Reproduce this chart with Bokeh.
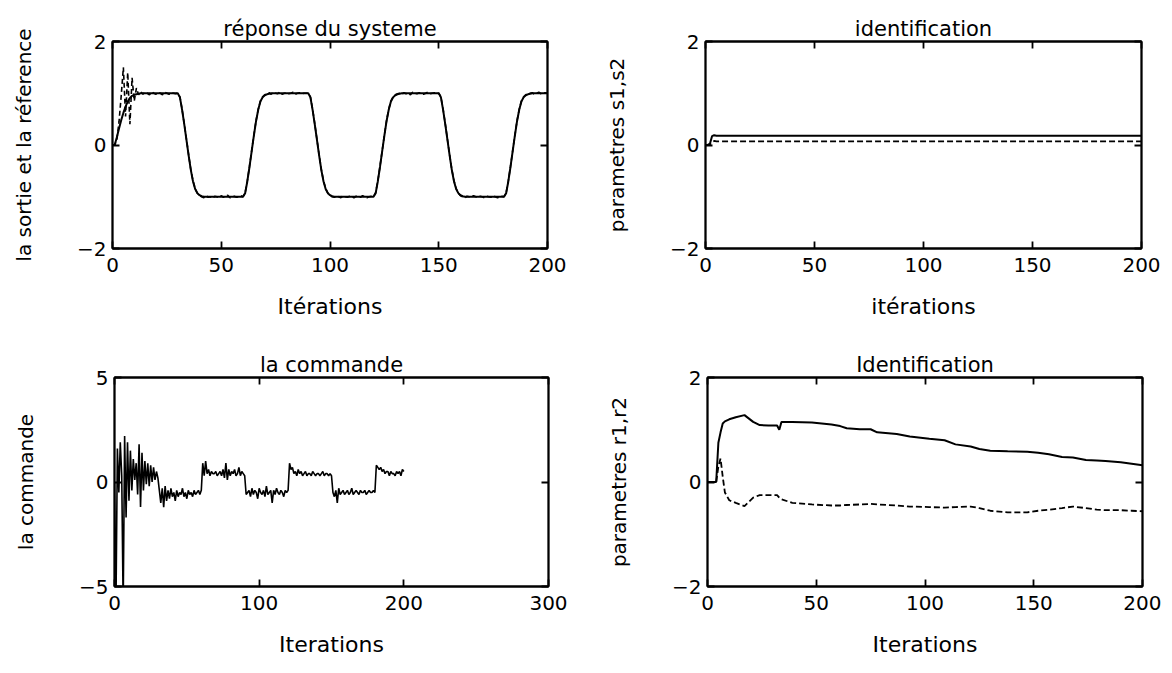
from bokeh.plotting import figure
from bokeh.layouts import column, row
from bokeh.models import LinearAxis, FixedTicker, Range1d
from bokeh.embed import file_html
from bokeh.resources import INLINE

FONT = "DejaVu Sans"

# ---------------- data ----------------
iterations = list(range(201))

# top-left: reference trajectory (solid) and system output (dashed)
reference = [
    0.0, 0.0, 0.15, 0.32, 0.48, 0.62, 0.74, 0.84, 0.91, 0.95,
    0.97, 0.98, 0.99, 1.0, 1.0, 1.0, 1.0, 1.0, 1.0, 1.0,
    1.0, 1.0, 1.0, 1.0, 1.0, 1.0, 1.0, 1.0, 1.0, 1.0,
    1.0, 0.92, 0.68, 0.40, 0.10, -0.20, -0.48, -0.70, -0.85, -0.93,
    -0.97, -0.99, -1.0, -1.0, -1.0, -1.0, -1.0, -1.0, -1.0, -1.0,
    -1.0, -1.0, -1.0, -1.0, -1.0, -1.0, -1.0, -1.0, -1.0, -1.0,
    -1.0, -0.93, -0.70, -0.42, -0.12, 0.18, 0.46, 0.68, 0.84, 0.92,
    0.96, 0.98, 0.99, 1.0, 1.0, 1.0, 1.0, 1.0, 1.0, 1.0,
    1.0, 1.0, 1.0, 1.0, 1.0, 1.0, 1.0, 1.0, 1.0, 1.0,
    1.0, 0.92, 0.68, 0.40, 0.10, -0.20, -0.48, -0.70, -0.85, -0.93,
    -0.97, -0.99, -1.0, -1.0, -1.0, -1.0, -1.0, -1.0, -1.0, -1.0,
    -1.0, -1.0, -1.0, -1.0, -1.0, -1.0, -1.0, -1.0, -1.0, -1.0,
    -1.0, -0.93, -0.70, -0.42, -0.12, 0.18, 0.46, 0.68, 0.84, 0.92,
    0.96, 0.98, 0.99, 1.0, 1.0, 1.0, 1.0, 1.0, 1.0, 1.0,
    1.0, 1.0, 1.0, 1.0, 1.0, 1.0, 1.0, 1.0, 1.0, 1.0,
    1.0, 0.92, 0.68, 0.40, 0.10, -0.20, -0.48, -0.70, -0.85, -0.93,
    -0.97, -0.99, -1.0, -1.0, -1.0, -1.0, -1.0, -1.0, -1.0, -1.0,
    -1.0, -1.0, -1.0, -1.0, -1.0, -1.0, -1.0, -1.0, -1.0, -1.0,
    -1.0, -0.93, -0.70, -0.42, -0.12, 0.18, 0.46, 0.68, 0.84, 0.92,
    0.96, 0.98, 0.99, 1.0, 1.0, 1.0, 1.0, 1.0, 1.0, 1.0, 1.0,
]

sortie = [
    0.0, 0.0, 0.1, 0.45, 0.95, 1.5, 0.55, 1.4, 0.4, 1.3,
    0.85, 1.1, 0.97, 1.03, 0.98, 1.02, 1.0, 0.97, 1.03, 1.0,
    0.98, 1.02, 1.0, 0.97, 1.02, 1.0, 0.98, 1.01, 1.0, 0.99,
    1.0, 0.93, 0.69, 0.41, 0.11, -0.19, -0.47, -0.69, -0.84, -0.93,
    -0.98, -1.0, -1.02, -0.98, -1.01, -1.0, -1.03, -0.99, -1.0, -1.02,
    -0.98, -1.01, -1.0, -0.97, -1.02, -1.0, -0.99, -1.01, -1.0, -0.98,
    -1.0, -0.92, -0.69, -0.41, -0.11, 0.19, 0.47, 0.69, 0.85, 0.93,
    0.97, 0.99, 1.01, 0.98, 1.02, 1.0, 0.99, 1.03, 0.98, 1.0,
    1.01, 0.99, 1.0, 1.02, 0.98, 1.0, 1.01, 0.99, 1.0, 1.0,
    1.0, 0.93, 0.69, 0.41, 0.11, -0.19, -0.47, -0.69, -0.84, -0.93,
    -0.98, -1.0, -1.01, -0.99, -1.0, -1.02, -0.98, -1.0, -1.01, -0.99,
    -1.0, -1.02, -0.99, -1.0, -1.01, -0.98, -1.0, -1.02, -1.0, -0.99,
    -1.0, -0.92, -0.69, -0.41, -0.11, 0.19, 0.47, 0.69, 0.85, 0.93,
    0.97, 0.99, 1.0, 0.98, 1.01, 0.99, 1.0, 0.97, 1.02, 1.0,
    0.99, 1.01, 1.0, 0.98, 1.0, 1.02, 0.99, 1.0, 1.01, 0.99,
    1.0, 0.93, 0.69, 0.41, 0.11, -0.19, -0.47, -0.69, -0.84, -0.93,
    -0.98, -1.0, -1.02, -0.99, -1.0, -1.01, -0.98, -1.0, -1.01, -0.99,
    -1.0, -1.02, -0.99, -1.0, -1.01, -0.98, -1.0, -1.02, -1.0, -0.99,
    -1.0, -0.92, -0.69, -0.41, -0.11, 0.19, 0.47, 0.69, 0.85, 0.93,
    0.97, 0.99, 1.0, 1.01, 0.98, 1.0, 1.02, 0.99, 1.0, 1.01, 1.0,
]

# top-right: identified parameters s1 (solid), s2 (dashed)
s_iter = [0, 1, 2, 3, 4, 5, 6, 8, 10, 15, 20, 30, 40, 50, 60, 70, 80, 90,
          100, 110, 120, 130, 140, 150, 160, 170, 180, 190, 200]
s1 = [0.0, 0.0, 0.02, 0.17, 0.19, 0.18, 0.18, 0.18, 0.18, 0.18, 0.18, 0.18, 0.18, 0.18,
      0.18, 0.18, 0.18, 0.18, 0.18, 0.18, 0.18, 0.18, 0.18, 0.18, 0.18, 0.18, 0.18, 0.18, 0.18]
s2 = [0.0, 0.0, 0.01, 0.05, 0.08, 0.07, 0.07, 0.07, 0.07, 0.07, 0.07, 0.07, 0.07, 0.07,
      0.07, 0.07, 0.07, 0.07, 0.07, 0.07, 0.07, 0.07, 0.07, 0.07, 0.07, 0.07, 0.07, 0.07, 0.07]

# bottom-left: control signal
commande = [
    0.0, -6.0, 1.6, -0.5, 1.9, 0.3, -6.0, 2.2, -1.7, 1.9,
    -0.9, 1.5, -0.4, 1.1, 0.1, 0.9, -0.6, 1.8, -1.2, 1.4,
    -0.4, 1.0, -0.1, 0.9, -0.2, 0.8, 0.0, 0.7, 0.1, 0.5,
    0.2, -0.4, -1.0, -0.3, -1.2, -0.2, -0.9, -0.4, -0.8, -0.3,
    -0.7, -0.5, -0.9, -0.4, -0.7, -0.5, -0.6, -0.3, -0.7, -0.5,
    -0.8, -0.4, -0.6, -0.5, -0.7, -0.4, -0.6, -0.5, -0.4, -0.6,
    -0.4, 0.9, 0.3, 1.0, 0.4, 0.6, 0.3, 0.5, 0.4, 0.4,
    0.5, 0.3, 0.4, 0.5, 0.3, 0.6, 0.2, 0.9, 0.1, 0.6,
    0.3, 0.5, 0.4, 0.6, 0.3, 0.4, 0.7, 0.3, 0.5, 0.4,
    0.3, -0.6, -0.5, -0.4, -0.7, -0.3, -0.6, -0.4, -0.5, -0.8,
    -0.3, -0.5, -0.6, -0.4, -0.7, -0.2, -0.6, -0.5, -0.4, -1.0,
    -0.4, -0.6, -0.3, -0.5, -0.6, -0.4, -0.5, -0.7, -0.4, -0.5,
    -0.4, 0.9, 0.6, 0.7, 0.4, 0.5, 0.3, 0.6, 0.4, 0.5,
    0.3, 0.4, 0.5, 0.3, 0.4, 0.4, 0.3, 0.5, 0.4, 0.3,
    0.4, 0.4, 0.3, 0.4, 0.5, 0.3, 0.4, 0.4, 0.3, 0.4,
    0.3, -0.5, -0.7, -0.4, -1.0, -0.3, -0.6, -0.5, -0.4, -0.6,
    -0.5, -0.4, -0.6, -0.5, -0.3, -0.6, -0.5, -0.4, -0.5, -0.6,
    -0.4, -0.5, -0.5, -0.4, -0.6, -0.5, -0.4, -0.5, -0.5, -0.4,
    -0.5, 0.8, 0.7, 0.6, 0.7, 0.5, 0.6, 0.4, 0.5, 0.5,
    0.3, 0.5, 0.4, 0.4, 0.3, 0.5, 0.4, 0.5, 0.3, 0.6, 0.5,
]

# bottom-right: identified parameters r1 (solid), r2 (dashed)
r_iter = [0, 4, 5, 6, 7, 8, 10, 13, 17, 21, 24, 28, 32, 33, 34, 39, 48, 57, 61, 64,
          70, 75, 78, 87, 93, 102, 109, 114, 121, 125, 130, 138, 147, 152, 157, 163,
          168, 174, 179, 183, 190, 195, 200]
r1 = [0.0, 0.0, 0.75, 0.95, 1.12, 1.16, 1.2, 1.24, 1.28, 1.15, 1.09, 1.08, 1.08, 1.0,
      1.15, 1.15, 1.14, 1.1, 1.07, 1.03, 1.01, 1.01, 0.95, 0.92, 0.87, 0.83, 0.8, 0.72,
      0.68, 0.63, 0.6, 0.59, 0.58, 0.56, 0.53, 0.48, 0.47, 0.42, 0.41, 0.4, 0.38, 0.35, 0.32]
r2 = [0.0, 0.0, 0.3, 0.45, 0.1, -0.2, -0.35, -0.4, -0.46, -0.3, -0.25, -0.25, -0.25, -0.3,
      -0.33, -0.4, -0.43, -0.45, -0.45, -0.44, -0.43, -0.42, -0.43, -0.45, -0.47, -0.48,
      -0.49, -0.48, -0.47, -0.5, -0.55, -0.58, -0.58, -0.55, -0.53, -0.5, -0.47, -0.5,
      -0.53, -0.54, -0.54, -0.55, -0.56]

titles = ["réponse du systeme", "identification", "la commande", "Identification"]
x_labels = ["Itérations", "itérations", "Iterations", "Iterations"]
y_labels = ["la sortie et la réference", "parametres s1,s2", "la commande", "parametres r1,r2"]
x_ticks_200 = [0, 50, 100, 150, 200]
x_ticks_300 = [0, 100, 200, 300]
y_ticks_2 = [-2, 0, 2]
y_ticks_5 = [-5, 0, 5]


def lab(v):
    return str(v).replace("-", "\u2212")


def style_axis(ax, ticks, show_labels=True):
    ax.ticker = FixedTicker(ticks=ticks)
    ax.major_tick_in = 7
    ax.major_tick_out = 0
    ax.minor_tick_line_color = None
    ax.axis_line_width = 1.8
    ax.axis_line_color = "black"
    ax.major_tick_line_width = 1.8
    ax.major_tick_line_color = "black"
    if show_labels:
        ax.major_label_overrides = {t: lab(t) for t in ticks}
        ax.major_label_text_font = FONT
        ax.major_label_text_font_size = "20px"
        ax.major_label_text_color = "black"
        ax.major_label_standoff = 6
    else:
        ax.major_label_overrides = {t: "" for t in ticks}
        ax.major_label_text_font_size = "1px"
        ax.major_label_standoff = 0


def make_fig(title, xlabel, ylabel, xr, yr, xt, yt, w, h, bl, br, bt, bb):
    p = figure(width=w, height=h, x_range=Range1d(*xr), y_range=Range1d(*yr),
               output_backend="svg", toolbar_location=None,
               min_border_left=bl, min_border_right=br,
               min_border_top=bt, min_border_bottom=bb,
               title=title, x_axis_label=xlabel, y_axis_label=ylabel)
    p.xgrid.visible = False
    p.ygrid.visible = False
    p.outline_line_color = "black"
    p.outline_line_width = 1.8
    p.background_fill_color = "white"
    p.border_fill_color = "white"
    p.title.text_font = FONT
    p.title.text_font_size = "21px"
    p.title.text_font_style = "normal"
    p.title.text_color = "black"
    p.title.align = "center"
    p.title.standoff = 2
    style_axis(p.xaxis[0], xt)
    style_axis(p.yaxis[0], yt)
    for ax in (p.xaxis[0], p.yaxis[0]):
        ax.axis_label_text_font = FONT
        ax.axis_label_text_font_style = "normal"
        ax.axis_label_text_color = "black"
    p.xaxis[0].axis_label_text_font_size = "22px"
    p.yaxis[0].axis_label_text_font_size = "20px"
    p.xaxis[0].major_label_standoff = 9
    p.xaxis[0].axis_label_standoff = 19
    p.yaxis[0].axis_label_standoff = 38
    top = LinearAxis()
    style_axis(top, xt, show_labels=False)
    p.add_layout(top, "above")
    right = LinearAxis()
    style_axis(right, yt, show_labels=False)
    p.add_layout(right, "right")
    return p


p1 = make_fig(titles[0], x_labels[0], y_labels[0], (0, 200), (-2, 2), x_ticks_200, y_ticks_2,
              587, 333, 112, 40, 40, 85)
p1.line(iterations, reference, line_color="black", line_width=2)
p1.line(iterations, sortie, line_color="black", line_width=1.6, line_dash="5 3")

p2 = make_fig(titles[1], x_labels[1], y_labels[1], (0, 200), (-2, 2), x_ticks_200, y_ticks_2,
              574, 333, 118, 20, 41, 84)
p2.line(s_iter, s1, line_color="black", line_width=2)
p2.line(s_iter, s2, line_color="black", line_width=1.8, line_dash="6 3")

p3 = make_fig(titles[2], x_labels[2], y_labels[2], (0, 300), (-5, 5), x_ticks_300, y_ticks_5,
              587, 330, 114, 39, 43, 77)
p3.line(iterations, commande, line_color="black", line_width=1.6)

p4 = make_fig(titles[3], x_labels[3], y_labels[3], (0, 200), (-2, 2), x_ticks_200, y_ticks_2,
              574, 330, 120, 19, 44, 76)
p4.line(r_iter, r1, line_color="black", line_width=2)
p4.line(r_iter, r2, line_color="black", line_width=1.8, line_dash="6 3")

layout = column(row(p1, p2), row(p3, p4))

open("out.html", "w").write(file_html(layout, INLINE))
